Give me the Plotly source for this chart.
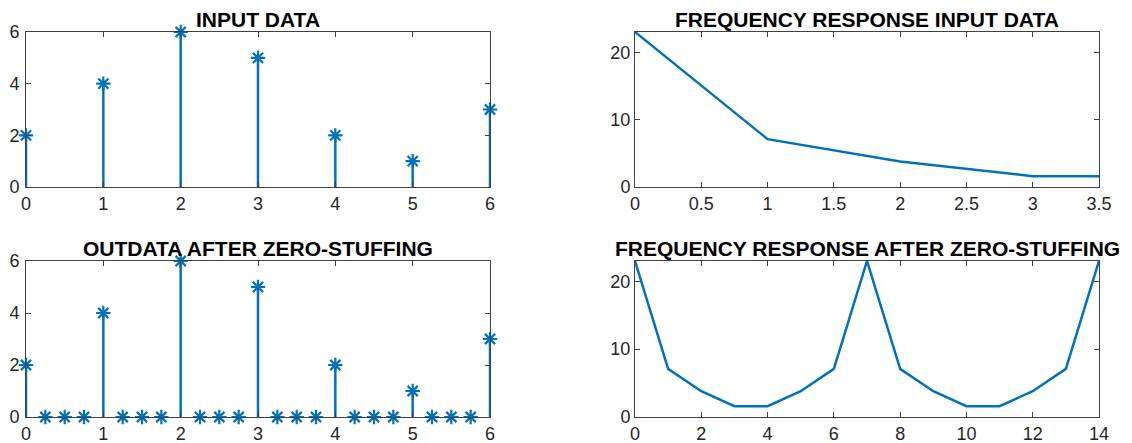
import plotly.graph_objects as go

# ---- data ----
input_n = [0, 1, 2, 3, 4, 5, 6]
input_vals = [2, 4, 6, 5, 2, 1, 3]

stuffed_n = [0, 0.25, 0.5, 0.75, 1, 1.25, 1.5, 1.75, 2, 2.25, 2.5, 2.75, 3,
             3.25, 3.5, 3.75, 4, 4.25, 4.5, 4.75, 5, 5.25, 5.5, 5.75, 6]
stuffed_vals = [2, 0, 0, 0, 4, 0, 0, 0, 6, 0, 0, 0, 5, 0, 0, 0, 2, 0, 0, 0, 1, 0, 0, 0, 3]

freq_k = [0, 1, 2, 3, 4, 5, 6]
freq_mag = [23, 7.1, 3.8, 1.6, 1.6, 3.8, 7.1]

freq2_k = list(range(15))
freq2_mag = [23, 7.1, 3.8, 1.6, 1.6, 3.8, 7.1, 23, 7.1, 3.8, 1.6, 1.6, 3.8, 7.1, 23]

titles = ["INPUT DATA", "FREQUENCY RESPONSE INPUT DATA",
          "OUTDATA AFTER ZERO-STUFFING", "FREQUENCY RESPONSE AFTER ZERO-STUFFING"]

BLUE = "#0072BD"
W, H = 1132, 443

fig = go.Figure()


def stem(xs, ys, xa, ya):
    sx, sy = [], []
    for x, y in zip(xs, ys):
        sx += [x, x, None]
        sy += [0, y, None]
    fig.add_trace(go.Scatter(x=sx, y=sy, mode="lines", xaxis=xa, yaxis=ya,
                             line=dict(color=BLUE, width=2.5), showlegend=False,
                             hoverinfo="skip"))
    fig.add_trace(go.Scatter(x=xs, y=ys, mode="markers", xaxis=xa, yaxis=ya,
                             marker=dict(symbol="asterisk-open", size=12, color=BLUE,
                                         line=dict(color=BLUE, width=2.2)),
                             cliponaxis=False, showlegend=False))


stem(input_n, input_vals, "x", "y")
fig.add_trace(go.Scatter(x=freq_k, y=freq_mag, mode="lines", xaxis="x2", yaxis="y2",
                         line=dict(color=BLUE, width=2.5), showlegend=False))
stem(stuffed_n, stuffed_vals, "x3", "y3")
fig.add_trace(go.Scatter(x=freq2_k, y=freq2_mag, mode="lines", xaxis="x4", yaxis="y4",
                         line=dict(color=BLUE, width=2.5), showlegend=False))

# pixel boxes
L = (26, 490)
R = (635, 1099)
T = (32, 187)
B = (261, 417)


def xd(p):
    return [p[0] / W, p[1] / W]


def yd(p):
    return [1 - p[1] / H, 1 - p[0] / H]


tickfont = dict(family="Liberation Sans, Arial, sans-serif", size=18, color="#262626")
common = dict(showgrid=False, zeroline=False, showline=True, linecolor="#404040",
              linewidth=1, mirror="ticks", ticks="inside", ticklen=5, tickwidth=1,
              tickcolor="#404040", tickfont=tickfont, automargin=False)

fig.update_layout(
    width=W, height=H, margin=dict(l=0, r=0, t=0, b=0),
    paper_bgcolor="white", plot_bgcolor="white",
    xaxis=dict(domain=xd(L), range=[0, 6], tickvals=[0, 1, 2, 3, 4, 5, 6], anchor="y", **common),
    yaxis=dict(domain=yd(T), range=[0, 6], tickvals=[0, 2, 4, 6], anchor="x", ticklabelstandoff=2, **common),
    xaxis2=dict(domain=xd(R), range=[0, 3.5], tickvals=[0, 0.5, 1, 1.5, 2, 2.5, 3, 3.5],
                ticktext=["0", "0.5", "1", "1.5", "2", "2.5", "3", "3.5"], anchor="y2", **common),
    yaxis2=dict(domain=yd(T), range=[0, 23], tickvals=[0, 10, 20], anchor="x2", **common),
    xaxis3=dict(domain=xd(L), range=[0, 6], tickvals=[0, 1, 2, 3, 4, 5, 6], anchor="y3", **common),
    yaxis3=dict(domain=yd(B), range=[0, 6], tickvals=[0, 2, 4, 6], anchor="x3", ticklabelstandoff=2, **common),
    xaxis4=dict(domain=xd(R), range=[0, 14], tickvals=[0, 2, 4, 6, 8, 10, 12, 14], anchor="y4", **common),
    yaxis4=dict(domain=yd(B), range=[0, 23], tickvals=[0, 10, 20], anchor="x4", **common),
)

title_font = dict(family="Liberation Sans, Arial, sans-serif", size=21, color="black")
centers = [((L[0] + L[1]) / 2, T[0]), ((R[0] + R[1]) / 2, T[0]),
           ((L[0] + L[1]) / 2, B[0]), ((R[0] + R[1]) / 2, B[0])]
for t, (cx, cy) in zip(titles, centers):
    fig.add_annotation(text="<b>" + t + "</b>", x=cx / W, y=1 - cy / H, xref="paper", yref="paper",
                       xanchor="center", yanchor="bottom", yshift=-1, showarrow=False, font=title_font)

fig.write_html("out.html")
